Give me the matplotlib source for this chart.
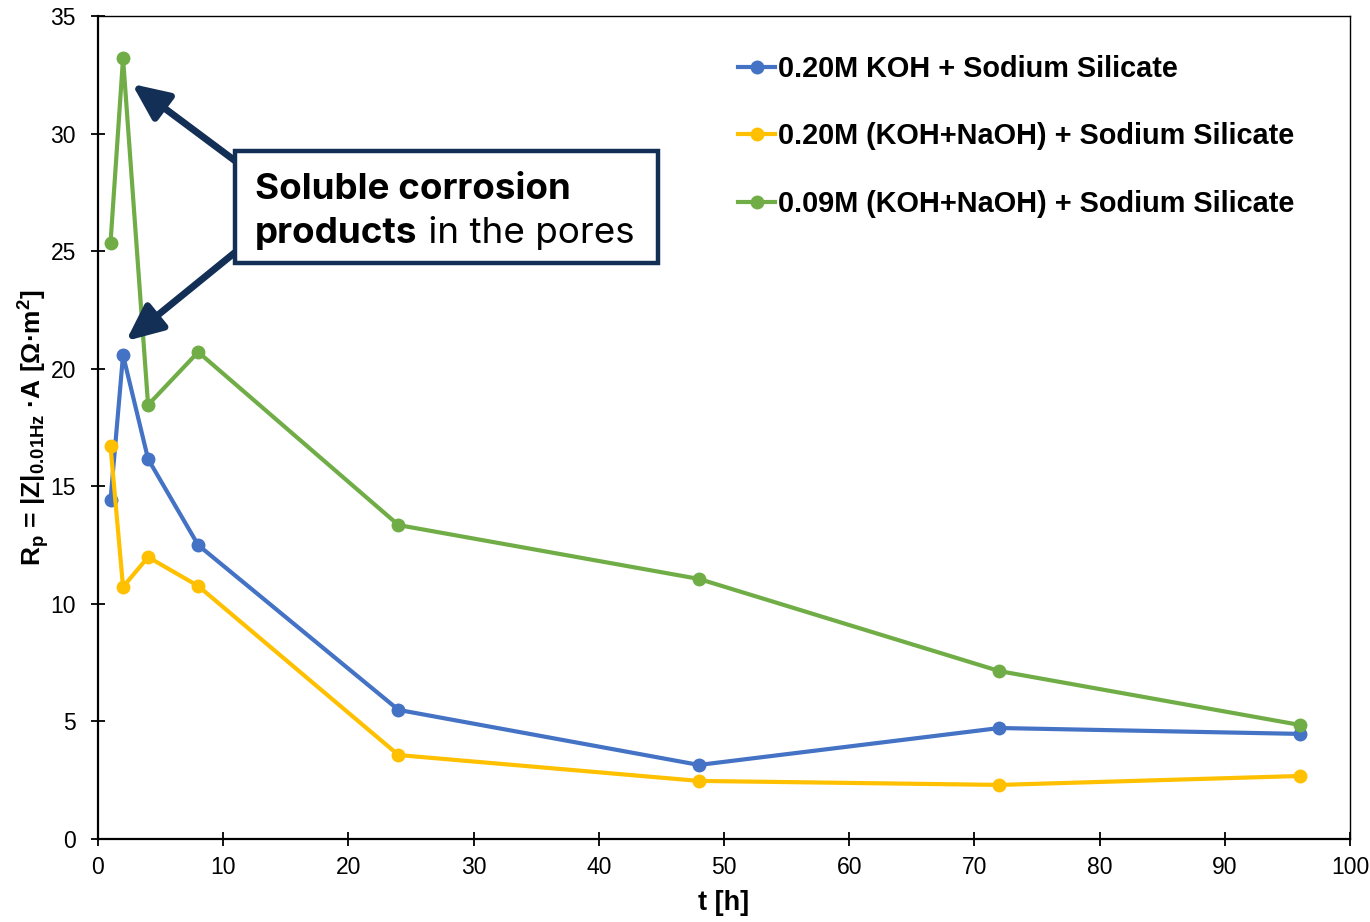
import matplotlib
matplotlib.use("Agg")
import matplotlib.pyplot as plt
from matplotlib.patches import Rectangle

plt.rcParams['font.family'] = ['Liberation Sans', 'DejaVu Sans']
plt.rcParams['mathtext.fontset'] = 'custom'
plt.rcParams['mathtext.rm'] = 'Liberation Sans:bold'
plt.rcParams['mathtext.it'] = 'Liberation Sans:bold'
plt.rcParams['mathtext.bf'] = 'Liberation Sans:bold'

t_hours = [1, 2, 4, 8, 24, 48, 72, 96]
koh_020 = [14.42, 20.58, 16.16, 12.50, 5.49, 3.15, 4.72, 4.47]
kohnaoh_020 = [16.71, 10.72, 11.99, 10.76, 3.57, 2.47, 2.30, 2.68]
kohnaoh_009 = [25.35, 33.21, 18.46, 20.71, 13.35, 11.06, 7.14, 4.85]
labels = ["0.20M KOH + Sodium Silicate",
          "0.20M (KOH+NaOH) + Sodium Silicate",
          "0.09M (KOH+NaOH) + Sodium Silicate"]
colors = ["#4472C4", "#FFC000", "#70AD47"]
x_ticks = [0, 10, 20, 30, 40, 50, 60, 70, 80, 90, 100]
y_ticks = [0, 5, 10, 15, 20, 25, 30, 35]

navy = "#132F56"

fig = plt.figure(figsize=(13.7, 9.22), dpi=100)
ax = fig.add_axes([98/1370, 1-839/922, (1350-98)/1370, (839-16)/922])

for ys, lab, c in zip([koh_020, kohnaoh_020, kohnaoh_009], labels, colors):
    ax.plot(t_hours, ys, color=c, lw=3, marker='o', markersize=9, label=lab)

ax.set_xlim(0, 100)
ax.set_ylim(0, 35)
ax.set_xticks(x_ticks)
ax.set_yticks(y_ticks)
ax.tick_params(direction='inout', length=10, width=1.3, labelsize=16.5, colors='black')
ax.tick_params(axis='x', pad=7)
ax.tick_params(axis='y', pad=11)
for s in ['left', 'bottom']:
    ax.spines[s].set_linewidth(1.6)
for s in ['top', 'right']:
    ax.spines[s].set_linewidth(1.0)

ax.set_xlabel("t [h]", fontsize=19.5, fontweight='bold', labelpad=8)
ax.set_ylabel(r"R$_{p}$ = |Z|$_{0.01Hz}$ ·A [Ω·m$^{2}$]", fontsize=19, fontweight='bold', labelpad=-1)

leg = ax.legend(loc='upper left', bbox_to_anchor=(0.511, 0.953), frameon=False,
                borderpad=0, borderaxespad=0, handlelength=1.3, handletextpad=0.1,
                labelspacing=1.37, prop={'family': 'Liberation Sans', 'weight': 'bold', 'size': 20.8})

# annotation box
box = Rectangle((235/1370, 1-263/922), (658-235)/1370, (263-151)/922, transform=fig.transFigure,
                facecolor='white', edgecolor=navy, lw=3.2, zorder=5)
fig.patches.append(box)

fam = ['Inter', 'DejaVu Sans']
t1 = fig.text(255/1370, 1-199/922, "Soluble corrosion", fontsize=26.5, fontweight='bold',
              family=fam, color='black', va='baseline', zorder=6)
t2 = fig.text(255/1370, 1-243/922, "products", fontsize=26.5, fontweight='bold',
              family=fam, color='black', va='baseline', zorder=6)
fig.canvas.draw()
bb = t2.get_window_extent(renderer=fig.canvas.get_renderer())
fig.text(bb.x1 / fig.bbox.width, 1-243/922, " in the pores", fontsize=26.5, fontweight='normal',
         family=fam, color='black', va='baseline', zorder=6)

# arrows
def data_from_px(px, py):
    return ((px - 98) / 12.52, (839 - py) / 23.514)

arrow_kw = dict(arrowstyle='-|>,head_length=1.0,head_width=0.45', lw=5, color=navy,
                mutation_scale=22, shrinkA=0, shrinkB=0)
ax.annotate("", xy=data_from_px(132, 84), xytext=data_from_px(238, 163),
            arrowprops=arrow_kw, annotation_clip=False)
ax.annotate("", xy=data_from_px(126, 341), xytext=data_from_px(238, 250),
            arrowprops=arrow_kw, annotation_clip=False)

fig.savefig("out.png", dpi=100)
